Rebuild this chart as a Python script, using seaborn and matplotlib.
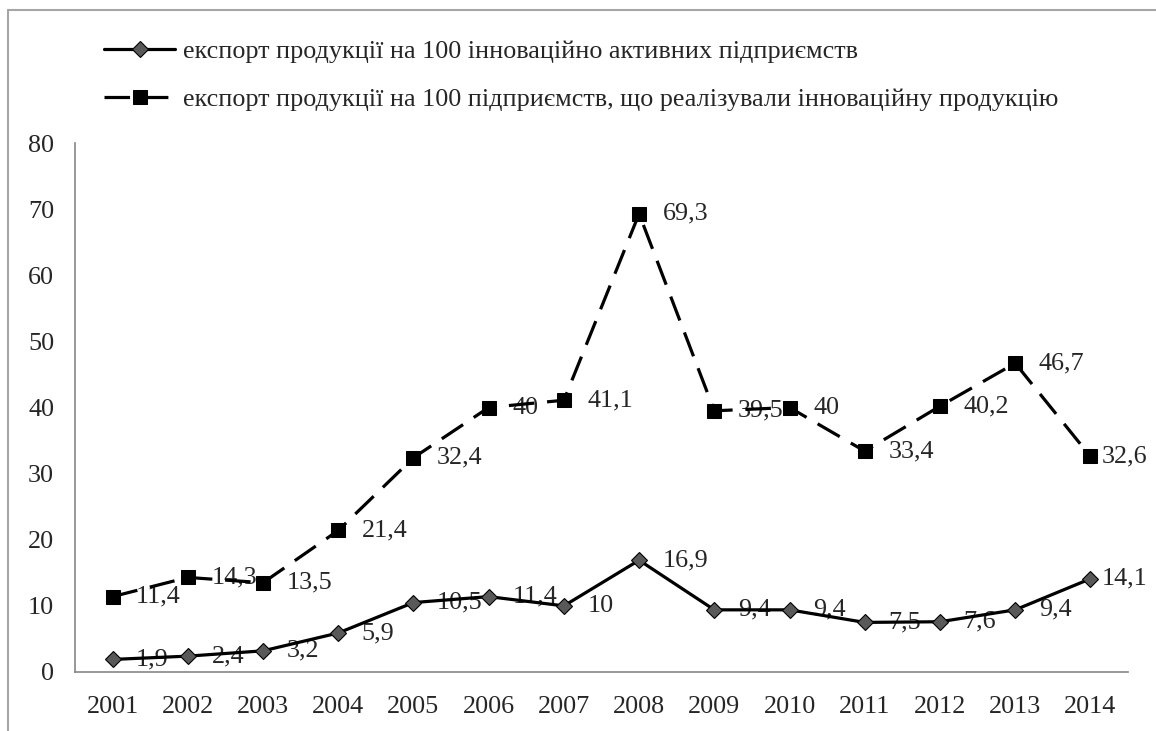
import matplotlib
matplotlib.use("Agg")
import matplotlib.pyplot as plt
from matplotlib.lines import Line2D
import pandas as pd
import seaborn as sns

years = list(range(2001, 2015))
active = [1.9, 2.4, 3.2, 5.9, 10.5, 11.4, 10, 16.9, 9.4, 9.4, 7.5, 7.6, 9.4, 14.1]
realized = [11.4, 14.3, 13.5, 21.4, 32.4, 40, 41.1, 69.3, 39.5, 40, 33.4, 40.2, 46.7, 32.6]
label_active = "експорт продукції на 100 інноваційно активних підприємств"
label_realized = "експорт продукції на 100 підприємств, що реалізували інноваційну продукцію"

df = pd.DataFrame({"year": years, "active": active, "realized": realized})

sns.set_style("white")
plt.rcParams["font.family"] = ["Liberation Serif", "DejaVu Serif"]
FS = 18.8

fig = plt.figure(figsize=(11.56, 7.31), dpi=100)
ax = fig.add_axes([75 / 1156, 1 - 672 / 731, (1128 - 75) / 1156, (672 - 143) / 731])

sns.lineplot(data=df, x="year", y="active", ax=ax, color="black", lw=2.3,
             marker="D", markersize=8.5, markerfacecolor="#595959",
             markeredgecolor="black", markeredgewidth=0.8, label=label_active, zorder=3)
sns.lineplot(data=df, x="year", y="realized", ax=ax, color="black", lw=2.3,
             marker="s", markersize=9.5, markerfacecolor="black",
             markeredgecolor="black", label=label_realized, zorder=3)
ax.lines[1].set_dashes((8, 4))

# data labels, lines overlap them as in the original
for ys in (active, realized):
    for x, v in zip(years, ys):
        dx = 8 if x == years[-1] else 17
        ax.annotate(format(v, "g").replace(".", ","), (x, v), xytext=(dx, 0),
                    textcoords="offset points", ha="left", va="center",
                    fontsize=FS, zorder=1)

ax.set_xlim(2000.5, 2014.5)
ax.set_ylim(0, 80)
ax.set_yticks(range(0, 81, 10))
ax.set_xticks([y + 0.5 for y in [2000] + years])
ax.set_xticklabels([])
ax.set_xticks(years, minor=True)
ax.set_xticklabels([str(y) for y in years], minor=True)
ax.tick_params(axis="x", which="major", length=6, color="#868686", width=1.2, direction="out")
ax.tick_params(axis="x", which="minor", length=0, pad=17, labelsize=FS)
ax.tick_params(axis="y", length=5, color="#868686", width=1.2, direction="out", pad=10, labelsize=FS)
ax.set_xlabel("")
ax.set_ylabel("")
for s in ("top", "right"):
    ax.spines[s].set_visible(False)
for s in ("left", "bottom"):
    ax.spines[s].set_color("#868686")
    ax.spines[s].set_linewidth(1.2)

ax.legend(loc="upper left", bbox_to_anchor=(94 / 1156, 1 - 29 / 731),
          bbox_transform=fig.transFigure, frameon=False, fontsize=FS,
          handlelength=2.7, handletextpad=0.3, labelspacing=0.95, borderaxespad=0)

# outer chart border (only top and left visible)
fig.add_artist(Line2D([8 / 1156, 1], [1 - 10 / 731, 1 - 10 / 731],
                      transform=fig.transFigure, color="#a6a6a6", lw=1.5))
fig.add_artist(Line2D([8 / 1156, 8 / 1156], [0, 1 - 10 / 731],
                      transform=fig.transFigure, color="#a6a6a6", lw=1.5))

fig.savefig("out.png", dpi=100)
